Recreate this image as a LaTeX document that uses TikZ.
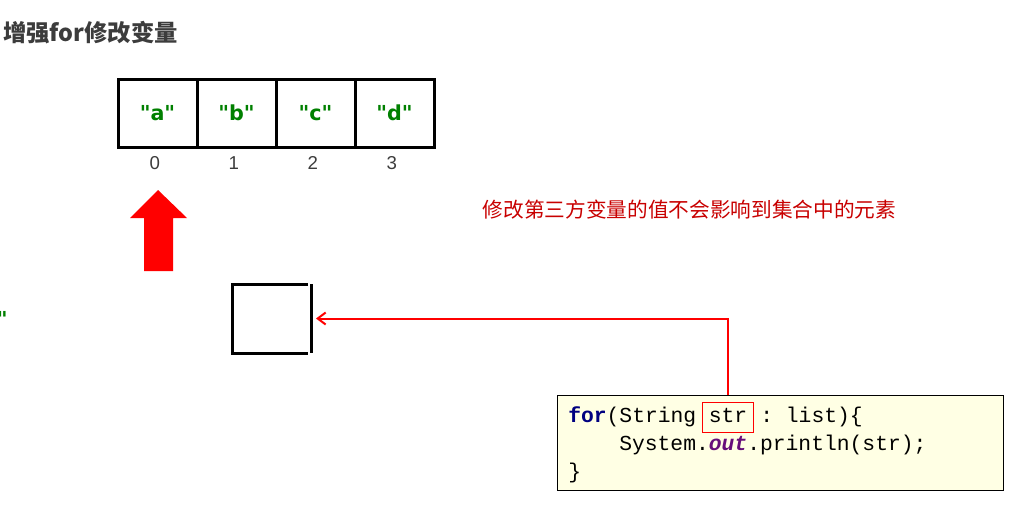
\documentclass[tikz,border=0pt]{standalone}
\usepackage{fontspec}
\setmainfont{Liberation Sans}
\setmonofont{Liberation Mono}
\newfontfamily\cjkfont{Noto Sans CJK SC}
\newfontfamily\valfont{DejaVu Sans}
\usetikzlibrary{positioning,arrows.meta}
\definecolor{valgreen}{RGB}{0,128,0}
\definecolor{notered}{RGB}{200,0,0}
\definecolor{keyblue}{RGB}{0,0,128}
\definecolor{fieldpurple}{RGB}{102,14,122}
\definecolor{codebg}{RGB}{255,255,228}
\definecolor{titlegray}{RGB}{60,60,60}
\begin{document}
\begin{tikzpicture}[x=0.75pt,y=-0.75pt,
    val/.style={font=\valfont\bfseries\fontsize{15.5}{18}\selectfont,text=valgreen},
    cell/.style={val,draw,line width=2.25pt,minimum width=59.25pt,minimum height=51pt,inner sep=0pt,outer sep=0pt},
    idx/.style={font=\fontsize{14}{16}\selectfont,text=titlegray},
    codetxt/.style={font=\ttfamily\fontsize{16}{19}\selectfont,inner sep=0pt},
    link/.style={red,line width=1.5pt,-{Straight Barb[length=6pt,width=9pt]}}]
  \useasboundingbox (0,0) rectangle (1017,507);
  \node[anchor=west,inner sep=0pt,font=\cjkfont\bfseries\fontsize{17.5}{20}\selectfont,text=titlegray] (title) at (3,33) {增强for修改变量};
  \node[cell] (c0) at (157.5,113) {"a"};
  \node[cell,right=0pt of c0] (c1) {"b"};
  \node[cell,right=0pt of c1] (c2) {"c"};
  \node[cell,right=0pt of c2] (c3) {"d"};
  \node[idx] (i0) at ([xshift=-2pt,yshift=-12pt]c0.south) {0};
  \node[idx] (i1) at ([xshift=-2pt,yshift=-12pt]c1.south) {1};
  \node[idx] (i2) at ([xshift=-2pt,yshift=-12pt]c2.south) {2};
  \node[idx] (i3) at ([xshift=-2pt,yshift=-12pt]c3.south) {3};
  \fill[red] (158,190) -- (187,218) -- (173,218) -- (173,271) -- (144,271) -- (144,218) -- (130,218) -- cycle;
  \node[anchor=west,font=\cjkfont\fontsize{15.5}{18}\selectfont,text=notered] (note) at (478,210) {修改第三方变量的值不会影响到集合中的元素};
  \node[val,anchor=base east,inner sep=0pt] (frag) at (8,326) {"};
  % the third variable
  \node[minimum width=59.25pt,minimum height=51.75pt,inner sep=0pt,outer sep=0pt] (var) at (271.5,318.5) {};
  \draw[line width=2.25pt] ([xshift=-2.25pt]var.north east) -- (var.north west) -- (var.south west) -- ([xshift=-2.25pt]var.south east);
  \draw[line width=2.25pt] (var.north east) -- (var.south east);
  % code
  \node[draw,fill=codebg,line width=0.75pt,minimum width=334.5pt,minimum height=71.25pt,inner sep=0pt,anchor=north west] (code) at (557,395) {};
  \node[codetxt,anchor=base west] (ln1) at (568,422) {\textcolor{keyblue}{\textbf{for}}(String \phantom{str} : list)\{};
  \node[codetxt,anchor=base west] (ln2) at (619,450) {System.\textcolor{fieldpurple}{\textbf{\textit{out}}}.println(str);};
  \node[codetxt,anchor=base west] (ln3) at (568,478) {\}};
  \node[codetxt,draw=red,line width=0.75pt,inner xsep=5pt,inner ysep=3.75pt,text height=11pt,text depth=4pt,anchor=base] (str) at (728,422) {str};
  \draw[link] (code.north -| str.north) |- ([xshift=3.75pt]var.east);
\end{tikzpicture}
\end{document}
